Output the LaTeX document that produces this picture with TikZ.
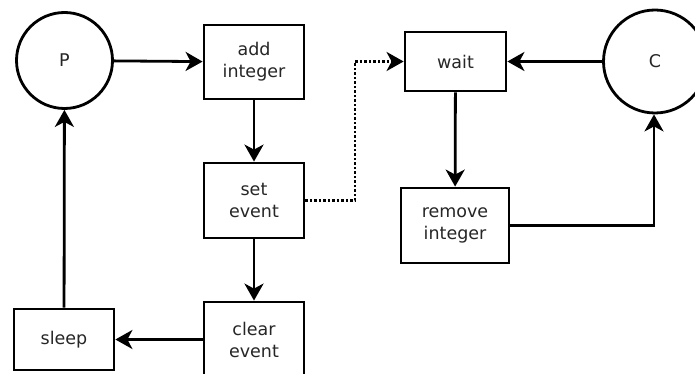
\documentclass[tikz,border=0pt]{standalone}
\usepackage{fontspec}
\setmainfont{DejaVu Sans}
\usetikzlibrary{arrows.meta}
\begin{document}
\begin{tikzpicture}[x=1pt,y=-1pt,
  every node/.style={font=\fontsize{17.5}{22}\selectfont, text=black!85, align=center, inner sep=0pt},
  boxnode/.style={draw, line width=2.8pt, minimum width=100pt, minimum height=#1},
  boxnode/.default=74pt,
  circnode/.style={draw, circle, line width=2.8pt, minimum size=#1},
  conn/.style={line width=2.8pt, -{Stealth[length=17pt, width=19pt, inset=5pt]}},
  dotconn/.style={conn, dash pattern=on 2.5pt off 2pt}
]
\useasboundingbox[fill=white] (0,0) rectangle (695,374);
\node[circnode=96pt] (P) at (64.5,60.5) {P};
\node[circnode=103pt] (C) at (655,61.5) {C};
\node[boxnode] (add) at (254,62) {add\\integer};
\node[boxnode=75pt] (set) at (254,200.5) {set\\event};
\node[boxnode=75pt] (clear) at (254,339.5) {clear\\event};
\node[boxnode=61pt] (sleep) at (64,339.5) {sleep};
\node[boxnode=59pt, minimum width=101pt] (wait) at (455.5,61.5) {wait};
\node[boxnode=75pt, minimum width=108pt] (remove) at (455,225.5) {remove\\integer};
\coordinate (d1) at (355,200.5);
\coordinate (d2) at (355,61.5);
\coordinate (r1) at (654,225.5);
\draw[conn] (P) -- (add);
\draw[conn] (add) -- (set);
\draw[conn] (set) -- (clear);
\draw[conn] (clear) -- (sleep);
\draw[conn] (sleep) -- (P);
\draw[dotconn] (set.east) -- (d1) -- (d2) -- (wait.west);
\draw[conn] (C) -- (wait);
\draw[conn] (wait) -- (remove);
\draw[conn] (remove.east) -- (r1) -- (C.south -| r1);
\end{tikzpicture}
\end{document}
